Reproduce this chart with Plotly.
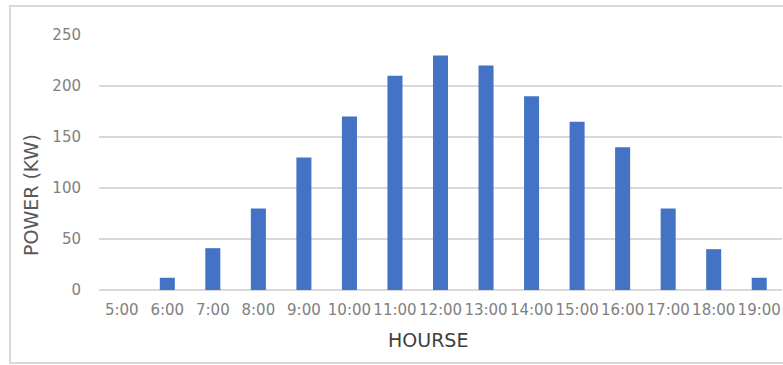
import plotly.graph_objects as go

# Hourly power output
hours = ["5:00", "6:00", "7:00", "8:00", "9:00", "10:00", "11:00", "12:00",
         "13:00", "14:00", "15:00", "16:00", "17:00", "18:00", "19:00"]
power_kw = [0, 12, 41, 80, 130, 170, 210, 230, 220, 190, 165, 140, 80, 40, 12]
y_ticks = [0, 50, 100, 150, 200, 250]

W, H = 783, 365
L, R, T, B = 99, 1, 35, 75
pw, ph = W - L - R, H - T - B
FONT = "DejaVu Sans"


def px_x(px):
    return (px - L) / pw


def px_y(py):
    return (H - B - py) / ph


fig = go.Figure(
    go.Bar(
        x=hours,
        y=power_kw,
        marker=dict(color="#4472C4", line=dict(width=0)),
    )
)

fig.update_layout(
    width=W,
    height=H,
    margin=dict(l=L, r=R, t=T, b=B),
    paper_bgcolor="white",
    plot_bgcolor="white",
    bargap=0.67,
    showlegend=False,
    font=dict(family=FONT, color="#808080"),
    xaxis=dict(
        type="category",
        tickangle=0,
        tickfont=dict(size=15, color="#808080", family=FONT),
        ticklabelstandoff=9,
        showgrid=False,
        showline=False,
        zeroline=False,
    ),
    yaxis=dict(
        range=[0, 250],
        tickvals=y_ticks,
        tickfont=dict(size=15, color="#808080", family=FONT),
        ticklabelstandoff=17,
        showgrid=True,
        gridcolor="#d9d9d9",
        gridwidth=1.5,
        zeroline=True,
        zerolinecolor="#d9d9d9",
        zerolinewidth=1.5,
        showline=False,
    ),
    shapes=[
        dict(
            type="rect", xref="paper", yref="paper",
            x0=px_x(10), x1=px_x(790), y0=px_y(363), y1=px_y(6),
            line=dict(color="#d9d9d9", width=2),
            fillcolor="rgba(0,0,0,0)", layer="below",
        )
    ],
    annotations=[
        dict(
            text="POWER (KW)", xref="paper", yref="paper",
            x=px_x(31), y=px_y(195), textangle=-90, showarrow=False,
            xanchor="center", yanchor="middle",
            font=dict(size=19, color="#595959", family=FONT),
        ),
        dict(
            text="HOURSE", xref="paper", yref="paper",
            x=px_x(428), y=px_y(340), showarrow=False,
            xanchor="center", yanchor="middle",
            font=dict(size=19, color="#404040", family=FONT),
        ),
    ],
)

fig.write_html("out.html")
